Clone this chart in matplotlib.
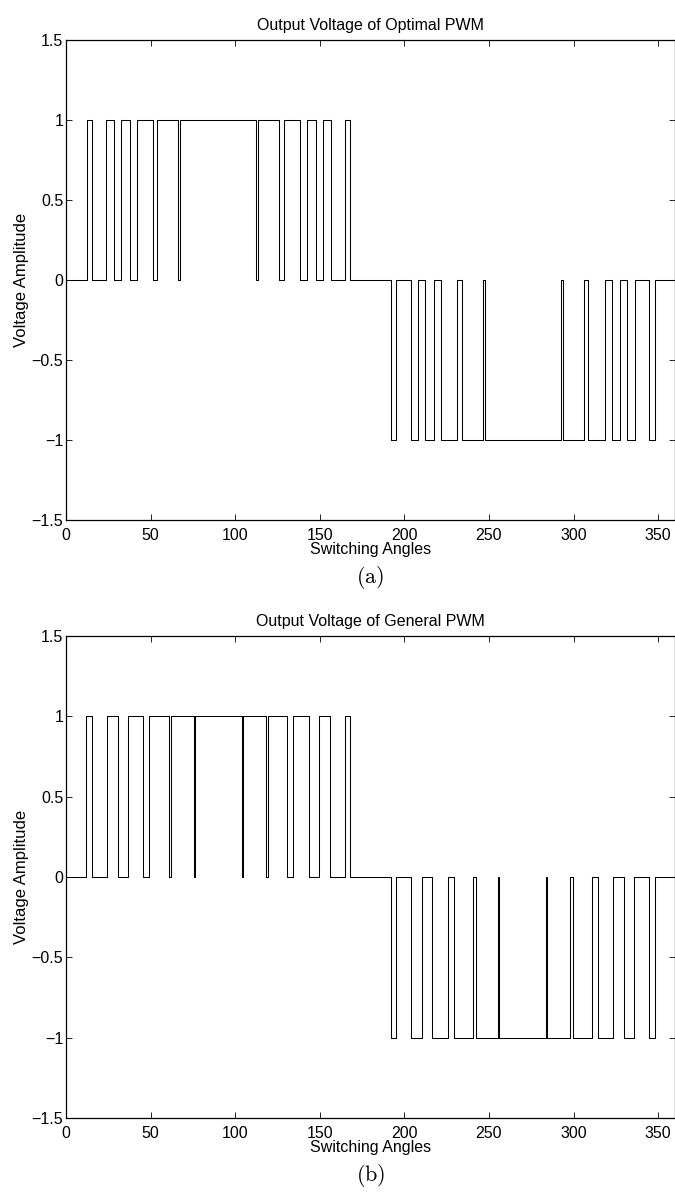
import numpy as np
import matplotlib
matplotlib.use("Agg")
import matplotlib.pyplot as plt

plt.rcParams['font.family'] = ['Liberation Sans', 'DejaVu Sans']
plt.rcParams['mathtext.fontset'] = 'cm'

# pulse intervals (start, end) in degrees
opt_pos = [(12.2, 15.2), (23.6, 28.3), (32.3, 37.6), (41.7, 51.2), (53.9, 66.3),
           (67.5, 112.5), (113.7, 126.1), (128.8, 138.3), (142.4, 147.7),
           (151.7, 156.4), (164.8, 167.8)]
opt_neg = [(192.3, 195.2), (203.8, 208.3), (212.1, 217.5), (221.5, 231.1), (233.9, 246.4),
           (247.6, 292.6), (293.8, 306.0), (308.7, 318.4), (322.5, 327.6),
           (331.8, 336.4), (344.6, 348.0)]

gen_pos = [(12.0, 15.2), (24.2, 30.5), (36.6, 45.6), (49.2, 60.6), (62.0, 75.6),
           (76.0, 104.0), (104.4, 118.0), (119.4, 130.8), (134.4, 143.4),
           (149.5, 155.8), (164.8, 168.0)]
gen_neg = [(192.2, 195.2), (204.2, 210.4), (216.6, 225.7), (229.2, 240.8), (242.2, 255.6),
           (256.0, 284.0), (284.4, 297.9), (299.5, 310.9), (314.5, 323.5),
           (329.6, 335.9), (344.9, 348.0)]

titles = ["Output Voltage of Optimal PWM", "Output Voltage of General PWM"]
captions = [r"$\mathrm{(a)}$", r"$\mathrm{(b)}$"]


def waveform(pos, neg):
    x = [0.0]
    y = [0.0]
    for lev, pulses in ((1, pos), (-1, neg)):
        for a, b in pulses:
            x += [a, a, b, b]
            y += [0, lev, lev, 0]
    x.append(360.0)
    y.append(0.0)
    return np.array(x), np.array(y)


fig = plt.figure(figsize=(6.75, 11.96), dpi=100)
boxes = [[0.0978, 0.5655, 0.9022, 0.4013], [0.0978, 0.0652, 0.9022, 0.4030]]

for i, (pos, neg) in enumerate([(opt_pos, opt_neg), (gen_pos, gen_neg)]):
    ax = fig.add_axes(boxes[i])
    x, y = waveform(pos, neg)
    ax.plot(x, y, color='k', lw=0.75)
    ax.set_xlim(0, 360)
    ax.set_ylim(-1.5, 1.5)
    ax.set_xticks(np.arange(0, 351, 50))
    ax.set_yticks([-1.5, -1, -0.5, 0, 0.5, 1, 1.5])
    ax.set_yticklabels(['\u22121.5', '\u22121', '\u22120.5', '0', '0.5', '1', '1.5'])
    ax.tick_params(direction='in', top=True, right=True, length=4.5, width=0.6,
                   labelsize=11.5)
    ax.tick_params(axis='x', pad=6)
    ax.tick_params(axis='y', pad=2)
    for s in ax.spines.values():
        s.set_linewidth(0.9)
    ax.set_title(titles[i], fontsize=11.5, pad=7)
    ax.set_xlabel("Switching Angles", fontsize=11.5, labelpad=-1)
    ax.set_ylabel("Voltage Amplitude", fontsize=12, labelpad=2)
    ax.text(0.5, -0.12, captions[i], transform=ax.transAxes, ha='center',
            va='center', fontsize=16)

fig.savefig("out.png", dpi=100)
